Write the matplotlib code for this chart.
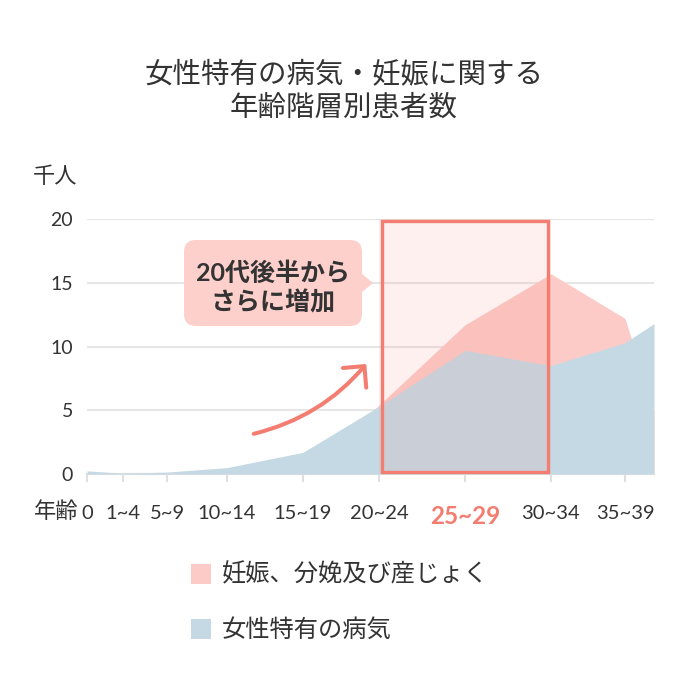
import matplotlib.pyplot as plt
import matplotlib.transforms as mtransforms
from matplotlib.patches import Rectangle, FancyBboxPatch, Polygon

# データ (千人)
age_groups = ["0", "1~4", "5~9", "10~14", "15~19", "20~24", "25~29", "30~34", "35~39", "40~44"]
shikkan = [0.25, 0.05, 0.15, 0.5, 1.7, 5.3, 9.7, 8.5, 10.3, 11.8]      # 女性特有の病気
ninshin = [0.0, 0.0, 0.0, 0.0, 0.3, 5.4, 11.7, 15.7, 12.2, 5.0]        # 妊娠、分娩及び産じょく
y_ticks = [0, 5, 10, 15, 20]
highlight = "25~29"
title_lines = ["女性特有の病気・妊娠に関する", "年齢階層別患者数"]

# 横軸の位置 (元の図の目盛り間隔に合わせる)
x_pos = [0, 36, 80, 140, 216, 292, 378, 464, 538, 567]

PINK = "#fccbc7"
BLUE = "#c5d9e4"
SALMON = "#f47d71"
TEXT = "#333333"
GRID = "#e6e6e6"
FONT = ["Lato", "Noto Sans CJK JP", "DejaVu Sans"]
plt.rcParams["font.family"] = FONT

W, H = 686, 688
fig = plt.figure(figsize=(W / 100, H / 100), dpi=100)
ax = fig.add_axes([87 / W, (H - 474) / H, 567 / W, 255 / H])

# ピクセル座標 (左上原点) で図に描くための変換
px = mtransforms.Affine2D().scale(1 / W, -1 / H).translate(0, 1) + fig.transFigure

ax.fill_between(x_pos, ninshin, color=PINK, lw=0, zorder=2)
ax.fill_between(x_pos, shikkan, color=BLUE, lw=0, zorder=3)

ax.set_xlim(x_pos[0], x_pos[-1])
ax.set_ylim(0, 20)
ax.set_yticks(y_ticks)
ax.set_yticklabels([str(v) for v in y_ticks], fontsize=14, color=TEXT)
ax.tick_params(axis="y", length=0, pad=10)
ax.grid(axis="y", color=GRID, lw=1.5, zorder=0)
ax.set_axisbelow(True)

ax.set_xticks(x_pos[:-1])
ax.set_xticklabels(age_groups[:-1], fontsize=14.5, color=TEXT)
ax.tick_params(axis="x", length=6, width=1.5, color="#e0e0e0", pad=16)
for lab in ax.get_xticklabels():
    if lab.get_text() == highlight:
        lab.set_color(SALMON)
        lab.set_fontweight("bold")
        lab.set_fontsize(17.5)

for s in ["top", "right", "left"]:
    ax.spines[s].set_visible(False)
ax.spines["bottom"].set_color("#e0e0e0")
ax.spines["bottom"].set_linewidth(1.5)

# 20代後半を強調する枠
i0 = age_groups.index("20~24")
i1 = age_groups.index("30~34")
ax.add_patch(Rectangle((x_pos[i0], 0), x_pos[i1] - x_pos[i0], 20, facecolor=SALMON,
                       alpha=0.11, lw=0, zorder=4))
ax.add_patch(Rectangle((x_pos[i0] + 3, 0.12), x_pos[i1] - x_pos[i0] - 6, 19.76, facecolor="none",
                       edgecolor=SALMON, lw=2.4, zorder=5, clip_on=False))

# 矢印
ax.annotate("", xy=(281, 8.8), xytext=(164, 3.1),
            arrowprops=dict(arrowstyle="->,head_length=0.55,head_width=0.55",
                            connectionstyle="arc3,rad=0.17", color=SALMON, lw=2.9,
                            capstyle="round", joinstyle="round", mutation_scale=20),
            zorder=6)

# 吹き出し
fig.add_artist(FancyBboxPatch((184, 240), 178, 86, boxstyle="round,pad=0,rounding_size=12",
                              transform=px, facecolor="#fdd0cc", lw=0))
fig.add_artist(Polygon([(361, 273), (373, 283), (361, 293)], closed=True, transform=px,
                       facecolor="#fdd0cc", lw=0))
fig.text(273, 288, "20代後半から\nさらに増加", transform=px, ha="center", va="center",
         fontsize=18, fontweight="bold", color=TEXT, linespacing=1.28)

# タイトル・単位
for ypix, line in zip([74, 108], title_lines):
    fig.text(344, ypix, line, transform=px, ha="center", va="center", fontsize=20.5, color=TEXT)
fig.text(55, 177, "千人", transform=px, ha="center", va="center", fontsize=16, color=TEXT)
fig.text(78, 512, "年齢", transform=px, ha="right", va="center", fontsize=16, color=TEXT)

# 凡例
for ypix, col, name in [(574, PINK, "妊娠、分娩及び産じょく"), (629, BLUE, "女性特有の病気")]:
    fig.add_artist(Rectangle((191, ypix - 10), 20, 20, transform=px, facecolor=col, lw=0))
    fig.text(222, ypix, name, transform=px, ha="left", va="center", fontsize=17.5, color=TEXT)

fig.savefig("out.png", dpi=100)
